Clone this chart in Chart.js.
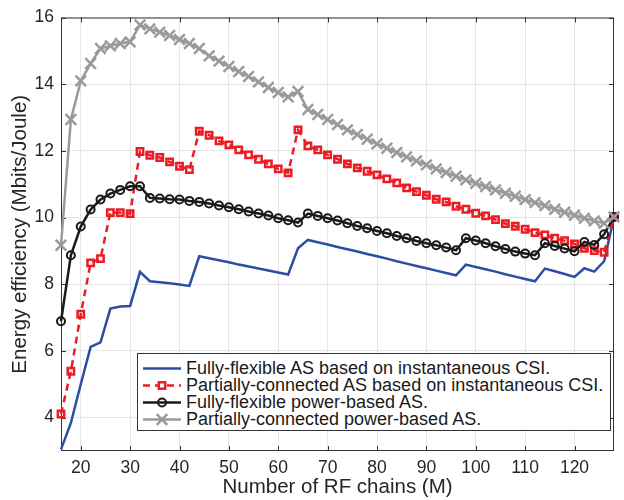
<!DOCTYPE html>
<html lang="en">
<head>
<meta charset="utf-8">
<title>Energy efficiency vs. number of RF chains</title>
<script src="https://cdn.jsdelivr.net/npm/chart.js@4.4.1/dist/chart.umd.min.js"></script>
<style>
  html, body { margin: 0; padding: 0; background: #fff; }
  #wrap { position: relative; width: 624px; height: 500px; }
  #chart { position: absolute; left: 0; top: 0; }
  #legend {
    position: absolute; left: 137px; top: 353px; width: 474px; height: 78px;
    box-sizing: border-box; border: 1px solid #333; background: #fff;
    padding-top: 6px; font: 18px "Liberation Sans", Arial, sans-serif; color: #1a1a1a;
  }
  .row { display: flex; align-items: center; height: 17px; line-height: 17px; white-space: nowrap; }
  .row svg { margin-left: 5px; margin-right: 5px; flex: none; }
</style>
</head>
<body>
<div id="wrap">
  <canvas id="chart" width="624" height="500"></canvas>
  <div id="legend"></div>
</div>
<script>
// Data --- (*1)
const rfChains = [16, 18, 20, 22, 24, 26, 28, 30, 32, 34, 36, 38, 40, 42, 44, 46, 48, 50, 52, 54,
  56, 58, 60, 62, 64, 66, 68, 70, 72, 74, 76, 78, 80, 82, 84, 86, 88, 90, 92, 94,
  96, 98, 100, 102, 104, 106, 108, 110, 112, 114, 116, 118, 120, 122, 124, 126, 128];

const fullyFlexibleCsi = [3.05, 3.84, 5.0, 6.12, 6.26, 7.27, 7.33, 7.35, 8.37, 8.09, 8.06, 8.03, 7.99, 7.95, 8.84, 8.78, 8.72, 8.66, 8.59, 8.53,
  8.47, 8.41, 8.35, 8.29, 9.08, 9.33, 9.26, 9.19, 9.12, 9.05, 8.98, 8.91, 8.84, 8.77, 8.69, 8.62, 8.55, 8.48, 8.41, 8.34,
  8.27, 8.59, 8.52, 8.45, 8.38, 8.30, 8.23, 8.16, 8.09, 8.47, 8.39, 8.31, 8.22, 8.48, 8.38, 8.69, 10.0];

const partialCsi = [4.11, 5.39, 7.10, 8.64, 8.77, 10.15, 10.15, 10.12, 11.98, 11.87, 11.80, 11.67, 11.54, 11.44, 12.59, 12.47, 12.30, 12.18, 12.03, 11.88,
  11.75, 11.61, 11.46, 11.34, 12.63, 12.15, 12.03, 11.88, 11.75, 11.61, 11.49, 11.39, 11.28, 11.16, 11.04, 10.89, 10.78, 10.67, 10.55, 10.47,
  10.34, 10.25, 10.13, 10.05, 9.94, 9.82, 9.74, 9.65, 9.55, 9.48, 9.38, 9.31, 9.21, 9.08, 9.01, 8.96, 10.02];

const fullyFlexiblePower = [6.89, 8.87, 9.73, 10.24, 10.54, 10.72, 10.83, 10.94, 10.94, 10.59, 10.57, 10.55, 10.54, 10.50, 10.47, 10.42, 10.36, 10.31, 10.25, 10.18,
  10.12, 10.06, 9.98, 9.92, 9.85, 10.12, 10.05, 9.98, 9.91, 9.83, 9.75, 9.68, 9.60, 9.53, 9.45, 9.38, 9.30, 9.23, 9.17, 9.10,
  9.02, 9.38, 9.31, 9.23, 9.14, 9.06, 8.98, 8.92, 8.87, 9.23, 9.15, 9.07, 8.99, 9.27, 9.18, 9.50, 10.02];

const partialPower = [9.17, 12.94, 14.10, 14.62, 15.07, 15.15, 15.22, 15.27, 15.78, 15.66, 15.56, 15.46, 15.34, 15.22, 15.07, 14.85, 14.69, 14.53, 14.38, 14.23,
  14.07, 13.90, 13.75, 13.62, 13.78, 13.24, 13.09, 12.94, 12.79, 12.63, 12.49, 12.35, 12.21, 12.08, 11.95, 11.82, 11.70, 11.58, 11.46, 11.35,
  11.24, 11.13, 11.03, 10.93, 10.83, 10.73, 10.64, 10.54, 10.45, 10.36, 10.25, 10.16, 10.07, 9.98, 9.90, 9.83, 10.02];

const seriesNames = [
  "Fully-flexible AS based on instantaneous CSI.",
  "Partially-connected AS based on instantaneous CSI.",
  "Fully-flexible power-based AS.",
  "Partially-connected power-based AS.",
];
const xTicks = [20, 30, 40, 50, 60, 70, 80, 90, 100, 110, 120];
const yTicks = [4, 6, 8, 10, 12, 14, 16];

const FONT = "'Liberation Sans', Arial, Helvetica, sans-serif";
const BLUE = "#2b4ea3";
const RED = "#ed1c24";
const BLACK = "#1a1a1a";
const GREY = "#9a9a9a";

// Pair x values with a series --- (*2)
function toPoints(values) {
  return rfChains.map((x, i) => ({ x, y: values[i] }));
}

// Box and inward tick marks like MATLAB axes --- (*3)
const frameTicks = {
  id: "frameTicks",
  beforeDatasetsDraw(chart) {
    const { ctx, chartArea: a, scales: { x, y } } = chart;
    const len = 5;
    ctx.save();
    ctx.strokeStyle = "#333";
    ctx.lineWidth = 1;
    ctx.beginPath();
    x.ticks.forEach((t) => {
      const px = Math.round(x.getPixelForValue(t.value)) + 0.5;
      ctx.moveTo(px, a.bottom); ctx.lineTo(px, a.bottom - len);
      ctx.moveTo(px, a.top); ctx.lineTo(px, a.top + len);
    });
    y.ticks.forEach((t) => {
      const py = Math.round(y.getPixelForValue(t.value)) + 0.5;
      ctx.moveTo(a.left, py); ctx.lineTo(a.left + len, py);
      ctx.moveTo(a.right, py); ctx.lineTo(a.right - len, py);
    });
    ctx.stroke();
    ctx.strokeRect(a.left + 0.5, a.top + 0.5, a.width - 1, a.height - 1);
    ctx.restore();
  },
};

// Legend drawn as HTML over the canvas --- (*4)
function legendSample(i) {
  const c = [BLUE, RED, BLACK, GREY][i];
  let s = `<svg width="38" height="17" viewBox="0 0 38 17">`;
  if (i === 1) {
    s += `<line x1="0" y1="8.5" x2="38" y2="8.5" stroke="${c}" stroke-width="2.5" stroke-dasharray="7 5"/>`;
    s += `<rect x="15.8" y="5.3" width="6.4" height="6.4" fill="#fff" stroke="${c}" stroke-width="2.5"/>`;
  } else {
    s += `<line x1="0" y1="8.5" x2="38" y2="8.5" stroke="${c}" stroke-width="2.5"/>`;
  }
  if (i === 2) s += `<circle cx="19" cy="8.5" r="4" fill="none" stroke="${c}" stroke-width="2"/>`;
  if (i === 3) s += `<path d="M13.7 3.2L24.3 13.8M24.3 3.2L13.7 13.8" stroke="${c}" stroke-width="2.5"/>`;
  return s + "</svg>";
}

function renderLegend(box) {
  box.innerHTML = seriesNames
    .map((name, i) => `<div class="row">${legendSample(i)}<span>${name}</span></div>`)
    .join("");
}

window.addEventListener("DOMContentLoaded", () => {
  renderLegend(document.querySelector("#legend"));

  // Chart itself --- (*5)
  new Chart(document.querySelector("#chart"), {
    type: "line",
    data: {
      datasets: [
        {
          label: seriesNames[0], data: toPoints(fullyFlexibleCsi), order: 4,
          borderColor: BLUE, borderWidth: 2.5, pointRadius: 0, clip: false,
        },
        {
          label: seriesNames[1], data: toPoints(partialCsi), order: 3,
          borderColor: RED, borderWidth: 2.5, borderDash: [7, 5],
          pointStyle: "rect", pointRadius: 4.5, pointBorderWidth: 2.5,
          pointBorderColor: RED, pointBackgroundColor: "rgba(0,0,0,0)", clip: false,
        },
        {
          label: seriesNames[2], data: toPoints(fullyFlexiblePower), order: 2,
          borderColor: BLACK, borderWidth: 2.5,
          pointStyle: "circle", pointRadius: 4, pointBorderWidth: 2,
          pointBorderColor: BLACK, pointBackgroundColor: "rgba(0,0,0,0)", clip: false,
        },
        {
          label: seriesNames[3], data: toPoints(partialPower), order: 1,
          borderColor: GREY, borderWidth: 2.5,
          pointStyle: "crossRot", pointRadius: 7.5, pointBorderWidth: 2.5,
          pointBorderColor: GREY, clip: false,
        },
      ],
    },
    options: {
      responsive: false,
      animation: false,
      layout: { padding: { top: 12, right: 5, left: 0, bottom: 0 } },
      plugins: { legend: { display: false }, tooltip: { enabled: false } },
      elements: { line: { tension: 0 } },
      scales: {
        x: {
          type: "linear", min: 16, max: 128,
          afterBuildTicks: (s) => { s.ticks = xTicks.map((v) => ({ value: v })); },
          afterFit: (s) => { s.height = 49; },
          grid: { color: "#e6e6e6", lineWidth: 1, drawTicks: false },
          border: { display: false },
          ticks: { padding: 7, color: "#262626", font: { family: FONT, size: 17.5 }, maxRotation: 0 },
          title: {
            display: true, text: "Number of RF chains (M)", color: "#262626",
            font: { family: FONT, size: 20.5 }, padding: { top: 0, bottom: 0 },
          },
        },
        y: {
          type: "linear", min: 3, max: 16,
          afterBuildTicks: (s) => { s.ticks = yTicks.map((v) => ({ value: v })); },
          afterFit: (s) => { s.width = 61; },
          grid: { color: "#e6e6e6", lineWidth: 1, drawTicks: false },
          border: { display: false },
          ticks: { padding: 7, color: "#262626", font: { family: FONT, size: 17.5 } },
          title: {
            display: true, text: "Energy efficiency (Mbits/Joule)", color: "#262626",
            font: { family: FONT, size: 20.5 }, padding: { top: 8, bottom: 0 },
          },
        },
      },
    },
    plugins: [frameTicks],
  });
});
</script>
</body>
</html>
